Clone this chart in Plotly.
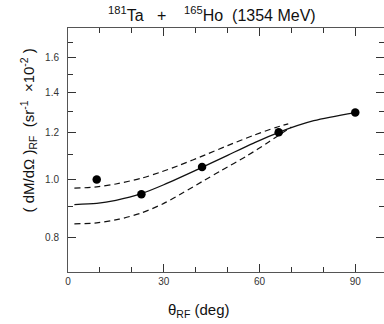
import plotly.graph_objects as go

# data points
theta_pts = [9, 23, 42, 66, 90]
dm_pts = [1.0, 0.945, 1.05, 1.2, 1.295]

# solid fit curve
theta_fit = [2, 9, 15, 23, 30, 41, 50, 58, 66, 77, 90]
dm_fit = [0.908, 0.912, 0.923, 0.947, 0.98, 1.042, 1.098, 1.15, 1.2, 1.255, 1.295]

# upper dashed band
theta_up = [2, 9, 15, 23, 29, 35, 43, 50, 58, 65, 69]
dm_up = [0.967, 0.972, 0.983, 1.005, 1.029, 1.057, 1.1, 1.14, 1.185, 1.222, 1.24]

# lower dashed band
theta_lo = [2, 9, 16, 23, 30, 36, 42, 48, 56, 63, 70]
dm_lo = [0.843, 0.846, 0.858, 0.879, 0.912, 0.95, 0.992, 1.035, 1.095, 1.157, 1.225]

x_major = [0, 30, 60, 90]
x_minor = [10, 20, 40, 50, 70, 80]
y_major = [0.8, 1.0, 1.2, 1.4, 1.6]
y_major_text = ["0.8", "1.0", "1.2", "1.4", "1.6"]
y_minor = [0.7, 0.9, 1.1, 1.3, 1.5, 1.7]

FONT = "Liberation Sans, Arial, sans-serif"
INK = "#111111"

fig = go.Figure()
fig.add_trace(go.Scatter(x=theta_up, y=dm_up, mode="lines", line=dict(color=INK, width=1.2, dash="6px,4px", shape="spline", smoothing=0.8), hoverinfo="skip"))
fig.add_trace(go.Scatter(x=theta_lo, y=dm_lo, mode="lines", line=dict(color=INK, width=1.2, dash="6px,4px", shape="spline", smoothing=0.8), hoverinfo="skip"))
fig.add_trace(go.Scatter(x=theta_fit, y=dm_fit, mode="lines", line=dict(color=INK, width=1.3, shape="spline", smoothing=0.8), hoverinfo="skip"))
fig.add_trace(go.Scatter(x=theta_pts, y=dm_pts, mode="markers", marker=dict(color="black", size=8.5)))

axis_common = dict(showgrid=False, zeroline=False, showline=True, linecolor="#555555", linewidth=1,
                   mirror="ticks", ticks="inside", tickcolor="#333333", tickwidth=1,
                   tickfont=dict(family=FONT, size=10, color="#333333"))

fig.update_xaxes(range=[0, 99], tickmode="array", tickvals=x_major, ticktext=[str(v) for v in x_major], ticklen=8,
                 minor=dict(tickmode="array", tickvals=x_minor, ticks="inside", ticklen=5, tickcolor="#333333"),
                 **axis_common)
fig.update_yaxes(type="log", range=[-0.155, 0.254], tickmode="array", tickvals=y_major, ticktext=y_major_text, ticklen=8,
                 ticklabelstandoff=6,
                 minor=dict(tickmode="array", tickvals=y_minor, ticks="inside", ticklen=5, tickcolor="#333333"),
                 **axis_common)

fig.update_layout(
    width=384, height=324,
    margin=dict(l=68, r=0, t=28, b=52),
    paper_bgcolor="white", plot_bgcolor="white",
    showlegend=False,
    font=dict(family=FONT, color=INK),
    annotations=[
        dict(text="<sup>181</sup>Ta   +    <sup>165</sup>Ho  (1354 MeV)", xref="paper", yref="paper",
             x=0.456, y=1.0, yshift=14, xanchor="center", yanchor="middle",
             showarrow=False, font=dict(size=16, family=FONT, color=INK)),
        dict(text="Out-of-plane distribution", xref="x", yref="y", x=9.3, y=1.61, xanchor="left", yanchor="middle",
             showarrow=False, font=dict(size=14, family=FONT, color=INK)),
        dict(text="( dM/dΩ )<sub>RF</sub>  (sr<sup>-1</sup>  ×10<sup>-2</sup> )", xref="paper", yref="paper",
             x=0, y=0.58, xshift=-40, xanchor="center", yanchor="middle", textangle=-90,
             showarrow=False, font=dict(size=15, family=FONT, color=INK)),
        dict(text="θ<sub>RF</sub> (deg)", xref="paper", yref="paper", x=0.415, y=0, yshift=-38,
             xanchor="center", yanchor="middle",
             showarrow=False, font=dict(size=15, family=FONT, color=INK)),
    ],
)

fig.write_html("out.html")
